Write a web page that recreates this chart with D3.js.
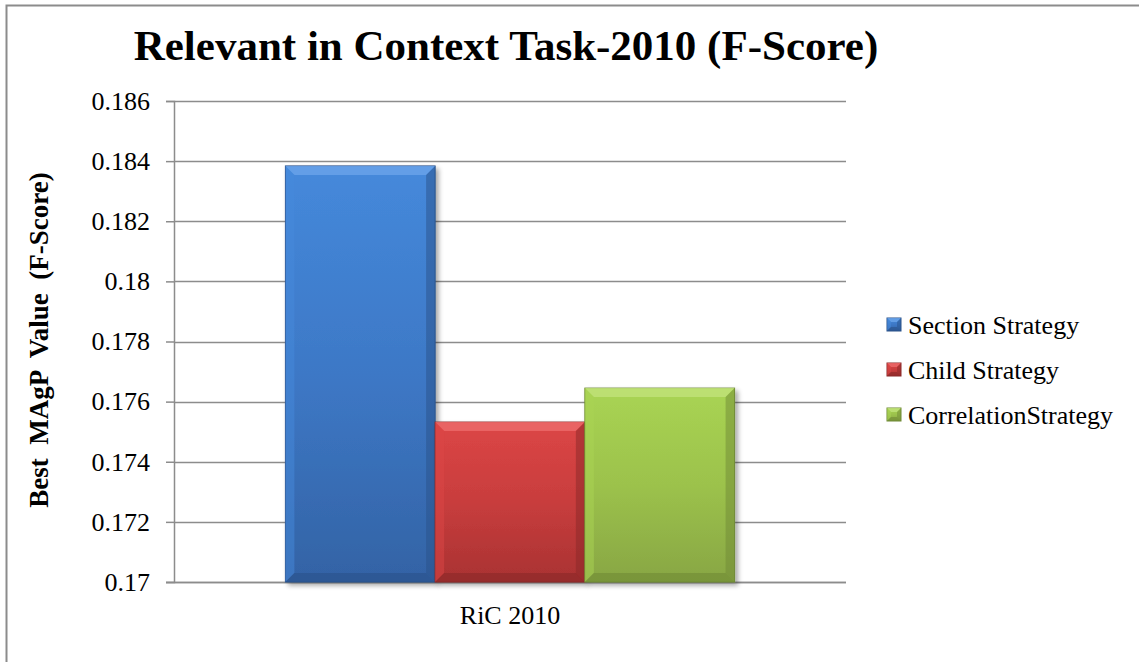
<!DOCTYPE html>
<html><head><meta charset="utf-8">
<script src="https://cdn.jsdelivr.net/npm/d3@7"></script>
<style>body{margin:0;background:#fff;} svg{display:block;}</style>
</head><body>
<svg id="chart" width="1139" height="662"></svg>
<script>
const categories = ["RiC 2010"];
const seriesNames = ["Section Strategy", "Child Strategy", "CorrelationStrategy"];
const seriesValues = [0.18384, 0.17532, 0.17645];
const yTicks = [0.17, 0.172, 0.174, 0.176, 0.178, 0.18, 0.182, 0.184, 0.186];
const yTickLabels = ["0.17", "0.172", "0.174", "0.176", "0.178", "0.18", "0.182", "0.184", "0.186"];
const colors = [
  {top:"#4589db", mid:"#3d78c6", bot:"#3363a5", edge:"#2a528a", light:"#6aa4ea"},
  {top:"#dc4646", mid:"#c83d3d", bot:"#a93232", edge:"#8a2828", light:"#ec6a6a"},
  {top:"#a9d453", mid:"#9cc24c", bot:"#88a643", edge:"#6f8a35", light:"#c0e27a"}
];

const svg = d3.select("#chart");
const font = "'Liberation Serif', 'Times New Roman', serif";

// outer border
svg.append("rect").attr("x", 6.5).attr("y", 5.5).attr("width", 1200).attr("height", 700)
  .attr("fill", "none").attr("stroke", "#8c8c8c").attr("stroke-width", 2);

const pLeft = 174, pRight = 846, pTop = 101, pBottom = 582;
const y = d3.scaleLinear().domain([0.17, 0.186]).range([pBottom, pTop]);
const x0 = d3.scaleBand().domain(categories).range([pLeft, pRight]).paddingInner(0).paddingOuter(0.248);
const x1 = d3.scaleBand().domain(seriesNames).range([0, x0.bandwidth()]).padding(0);

// gridlines
svg.append("g").selectAll("line").data(yTicks).join("line")
  .attr("x1", pLeft).attr("x2", pRight)
  .attr("y1", d => Math.round(y(d)) + 0.5).attr("y2", d => Math.round(y(d)) + 0.5)
  .attr("stroke", "#8c8c8c").attr("stroke-width", 1.5);

// y axis
const yAxis = d3.axisLeft(y).tickValues(yTicks).tickFormat((d, i) => yTickLabels[i]).tickSize(8).tickPadding(16);
const gy = svg.append("g").attr("transform", `translate(${pLeft},0)`).call(yAxis);
gy.select(".domain").attr("stroke", "#8c8c8c").attr("stroke-width", 1.5);
gy.selectAll(".tick line").attr("stroke", "#8c8c8c").attr("stroke-width", 1.5);
gy.selectAll("text").attr("font-family", font).attr("font-size", 26).attr("fill", "#000");

// x axis
const xAxis = d3.axisBottom(x0).tickSize(0).tickPadding(28);
const gx = svg.append("g").attr("transform", `translate(0,${pBottom})`).call(xAxis);
gx.select(".domain").attr("stroke", "#8c8c8c").attr("stroke-width", 1.5).attr("d", `M${pLeft - 8},0.5H${pRight}`);
gx.selectAll("text").attr("font-family", font).attr("font-size", 26).attr("fill", "#000").attr("dy", "0.55em");

// defs
const defs = svg.append("defs");
colors.forEach((c, i) => {
  const g = defs.append("linearGradient").attr("id", "g" + i).attr("x1", 0).attr("y1", 0).attr("x2", 0).attr("y2", 1);
  g.append("stop").attr("offset", "0%").attr("stop-color", c.top);
  g.append("stop").attr("offset", "50%").attr("stop-color", c.mid);
  g.append("stop").attr("offset", "100%").attr("stop-color", c.bot);
});
const f = defs.append("filter").attr("id", "shadow").attr("x", "-10%").attr("y", "-10%").attr("width", "130%").attr("height", "130%");
f.append("feGaussianBlur").attr("in", "SourceAlpha").attr("stdDeviation", 2.5);
f.append("feOffset").attr("dx", 3).attr("dy", 3).attr("result", "b");
f.append("feComponentTransfer").append("feFuncA").attr("type", "linear").attr("slope", 0.35);
const fm = f.append("feMerge");
fm.append("feMergeNode");
fm.append("feMergeNode").attr("in", "SourceGraphic");

function bevelBar(g, bx, by, bw, bh, i, e, shadow) {
  const c = colors[i];
  const r = g.append("rect").attr("x", bx).attr("y", by).attr("width", bw).attr("height", bh)
    .attr("fill", `url(#g${i})`).attr("stroke", c.edge).attr("stroke-width", 1);
  if (shadow) r.attr("filter", "url(#shadow)");
  g.append("path").attr("d", `M${bx},${by}H${bx + bw}L${bx + bw - e},${by + e}H${bx + e}Z`).attr("fill", c.light).attr("opacity", 0.8);
  g.append("path").attr("d", `M${bx},${by}L${bx + e},${by + e}V${by + bh - e}L${bx},${by + bh}Z`).attr("fill", c.top).attr("opacity", 0.5);
  g.append("path").attr("d", `M${bx + bw},${by}L${bx + bw - e},${by + e}V${by + bh - e}L${bx + bw},${by + bh}Z`).attr("fill", c.edge).attr("opacity", 0.5);
  g.append("path").attr("d", `M${bx},${by + bh}L${bx + e},${by + bh - e}H${bx + bw - e}L${bx + bw},${by + bh}Z`).attr("fill", c.edge).attr("opacity", 0.6);
}

// bars
const bars = svg.append("g").selectAll("g").data(seriesValues.map((v, i) => ({v, i, name: seriesNames[i]}))).join("g");
bars.each(function(d) {
  const bx = x0(categories[0]) + x1(d.name);
  const by = y(d.v);
  bevelBar(d3.select(this), bx, by, x1.bandwidth(), y(0.17) - by, d.i, 9, true);
});

// title
svg.append("text").attr("x", 506).attr("y", 60).attr("text-anchor", "middle")
  .attr("font-family", font).attr("font-size", 43).attr("font-weight", "bold").text("Relevant in Context Task-2010 (F-Score)");

// y label
svg.append("text").attr("transform", "translate(48,340) rotate(-90)").attr("text-anchor", "middle")
  .attr("font-family", font).attr("font-size", 27).attr("font-weight", "bold")
  .style("white-space", "pre")
  .text("Best  MAgP  Value  (F-Score)");

// legend
const lg = svg.append("g").selectAll("g").data(seriesNames).join("g")
  .attr("transform", (d, i) => `translate(887,${318 + i * 45})`);
lg.each(function(d, i) {
  bevelBar(d3.select(this), 0, 0, 14, 13, i, 4, false);
});
lg.append("text").attr("x", 21).attr("y", 16).attr("font-family", font).attr("font-size", 26).text(d => d);
</script>
</body></html>
